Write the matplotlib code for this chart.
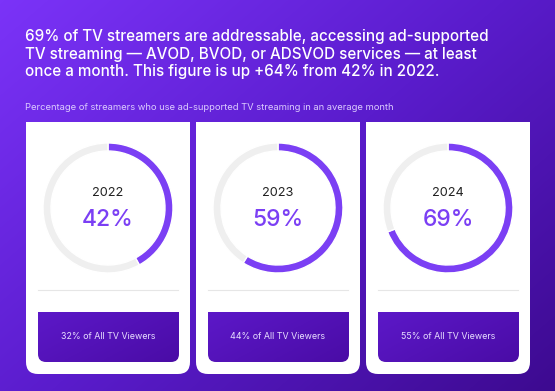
import numpy as np
import matplotlib
matplotlib.use("Agg")
import matplotlib.pyplot as plt
from matplotlib.patches import FancyBboxPatch, Rectangle
from matplotlib.colors import LinearSegmentedColormap

years = ["2022", "2023", "2024"]
streamer_pct = [42, 59, 69]
all_viewers_pct = [32, 44, 55]

title_lines = [
    "69% of TV streamers are addressable, accessing ad-supported",
    "TV streaming \u2014 AVOD, BVOD, or ADSVOD services \u2014 at least",
    "once a month. This figure is up +64% from 42% in 2022.",
]
subtitle = "Percentage of streamers who use ad-supported TV streaming in an average month"

W, H = 555, 391
FONT = ["Inter", "DejaVu Sans"]
fig = plt.figure(figsize=(W / 100, H / 100), dpi=100)

ax = fig.add_axes([0, 0, 1, 1])
ax.set_xlim(0, W)
ax.set_ylim(H, 0)
ax.axis("off")

# background gradient
bg_cmap = LinearSegmentedColormap.from_list("bg", ["#7b33f8", "#5a1ccc", "#3d0a90"])
yy, xx = np.mgrid[0:H, 0:W]
grad = (xx / W * 0.55 + yy / H * 0.45)
ax.imshow(grad, cmap=bg_cmap, extent=[0, W, H, 0], aspect="auto", zorder=0)

def fx(x):
    return x / W

def fy(y):
    return 1 - y / H

# title
for i, line in enumerate(title_lines):
    fig.text(fx(25), fy(41 + i * 17.5), line, color="white", fontsize=10.95,
             family=FONT, fontweight="medium", va="baseline", ha="left")
fig.text(fx(25), fy(110), subtitle, color="#dcccff", fontsize=6.75,
         family=FONT, va="baseline", ha="left")

box_cmap = LinearSegmentedColormap.from_list("box", ["#5c18c8", "#4a0ca6"])

centers = [108, 278, 448]
for i, cx in enumerate(centers):
    x0 = cx - 82
    # card: square top, rounded bottom
    card = FancyBboxPatch((x0, 122), 164, 252, boxstyle="round,pad=0,rounding_size=12",
                          facecolor="white", edgecolor="none", zorder=2)
    ax.add_patch(card)
    ax.add_patch(Rectangle((x0, 122), 164, 40, facecolor="white", edgecolor="none", zorder=2))

    # divider
    ax.plot([x0 + 12, x0 + 152], [290, 290], color="#e6e6e6", lw=0.8, zorder=3)

    # bottom box with gradient: rounded bottom, square top
    bx0, by0, bw, bh = x0 + 12, 312, 141, 50
    bbox = FancyBboxPatch((bx0, by0), bw, bh, boxstyle="round,pad=0,rounding_size=8",
                          facecolor="none", edgecolor="none", zorder=3)
    ax.add_patch(bbox)
    g = np.linspace(0, 1, 64)[None, :] * 0.6 + np.linspace(0, 1, 32)[:, None] * 0.4
    im = ax.imshow(g, cmap=box_cmap, extent=[bx0, bx0 + bw, by0 + bh, by0],
                   aspect="auto", zorder=3)
    im.set_clip_path(bbox)
    top = Rectangle((bx0, by0), bw, 12, facecolor="none", edgecolor="none")
    ax.add_patch(top)
    im2 = ax.imshow(g, cmap=box_cmap, extent=[bx0, bx0 + bw, by0 + bh, by0],
                    aspect="auto", zorder=3)
    im2.set_clip_path(top)

    fig.text(fx(cx), fy(339), f"{all_viewers_pct[i]}% of All TV Viewers", color="#e8dfff",
             fontsize=6.4, family=FONT, ha="center", va="baseline", zorder=5)

    # donut
    S = 140
    R = 65
    dax = fig.add_axes([fx(cx - S / 2), fy(208 + S / 2), S / W, S / H])
    v = streamer_pct[i]
    dax.pie([v, 100 - v], startangle=90, counterclock=False,
            colors=["#7b3ff4", "#efefef"], radius=1,
            wedgeprops=dict(width=8 / R, edgecolor="white", linewidth=1.0))
    lim = (S / 2) / R
    dax.set_xlim(-lim, lim)
    dax.set_ylim(-lim, lim)
    dax.set_aspect("equal")
    dax.axis("off")

    fig.text(fx(cx), fy(196), years[i], color="#222222", fontsize=9.2, family=FONT,
             ha="center", va="baseline", zorder=5)
    fig.text(fx(cx), fy(226), f"{v}%", color="#7b3ff4", fontsize=16.5, family=FONT,
             fontweight="medium", ha="center", va="baseline", zorder=5)

fig.savefig("out.png", dpi=100)
